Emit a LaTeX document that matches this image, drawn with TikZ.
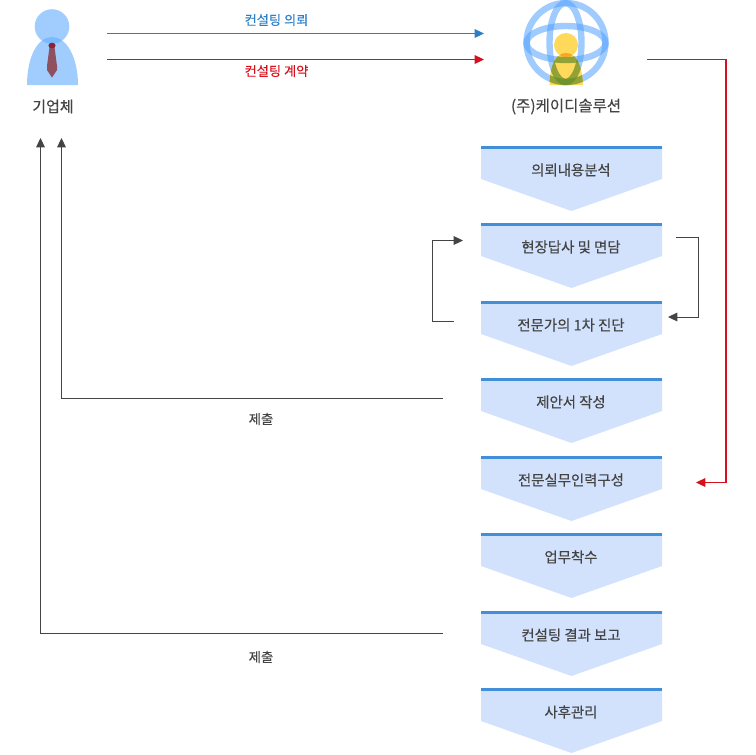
\documentclass[tikz,border=0pt]{standalone}
\usepackage{fontspec}
\setmainfont[FakeBold=0.35]{Noto Sans CJK KR}
\usetikzlibrary{arrows.meta}
\definecolor{personblue}{RGB}{101,174,254}
\definecolor{globeblue}{RGB}{80,160,254}
\definecolor{tiered}{RGB}{143,80,95}
\definecolor{knotred}{RGB}{140,35,50}
\definecolor{sunyellow}{RGB}{255,217,90}
\definecolor{olivegreen}{RGB}{100,140,40}
\definecolor{boxfill}{RGB}{211,226,252}
\definecolor{boxbar}{RGB}{64,143,216}
\definecolor{txtgrey}{RGB}{68,68,68}
\definecolor{linegrey}{RGB}{68,68,68}
\definecolor{reqblue}{RGB}{42,127,200}
\definecolor{ctrred}{RGB}{214,16,28}
\tikzset{
  lbl/.style={inner sep=0.75pt,text=txtgrey,font=\fontsize{10.8}{12}\selectfont},
  greyline/.style={draw=linegrey,line width=0.75pt,-{Triangle[length=7pt,width=6.5pt]}},
  blueline/.style={draw=reqblue,line width=0.85pt,-{Triangle[length=7pt,width=6.5pt]}},
  redline/.style={draw=ctrred,line width=0.85pt,-{Triangle[length=7pt,width=6.5pt]}},
  ring/.style={line width=4.8pt,fill=none}
}
\newcommand{\globerings}[2]{%
  \draw [ring,draw=#1,draw opacity=#2] (566,42.5) circle [radius=39.5];
  \draw [ring,draw=#1,draw opacity=#2] (566,43) ellipse [x radius=39.5,y radius=17];
  \draw [ring,draw=#1,draw opacity=#2] (565.5,42.5) ellipse [x radius=16,y radius=39.5];
}
\newcommand{\sunbody}{(549.5,85) .. controls (550,64) and (556,53) .. (566,53) .. controls (576,53) and (582,64) .. (583,85) -- cycle}
\begin{document}
\begin{tikzpicture}[x=0.75pt,y=0.75pt,yscale=-1,xscale=1]
\useasboundingbox (0,0) rectangle (756,754);

%Person
\fill [personblue,fill opacity=0.62] (27,85) .. controls (27,58) and (37,37) .. (52,37) .. controls (67,37) and (78,58) .. (78,85) -- cycle ;
\fill [personblue,fill opacity=0.62] (52,26.5) circle [radius=17.3];
\fill [tiered] (49.5,47) -- (54.5,47) -- (57,66) -- (57,70) -- (52,77.5) -- (47,70) -- (47,66) -- cycle ;
\fill [knotred] (52,45.5) ellipse [x radius=3.6,y radius=2.8];

%Globe
\globerings{globeblue}{0.55}
\fill [sunyellow] \sunbody ;
\fill [sunyellow] (566,45) circle [radius=12];
\begin{scope}
\clip \sunbody ;
\fill [orange!60!sunyellow] (566,45) circle [radius=12];
\globerings{olivegreen}{0.7}
\end{scope}

%Boxes
\foreach \i/\ytop/\txt in {1/146/의뢰내용분석,2/223/현장답사 및 면담,3/301/전문가의 1차 진단,4/378/제안서 작성,5/456/전문실무인력구성,6/533/업무착수,7/611/컨설팅 결과 보고,8/688/사후관리} {
  \fill [boxfill] (481,\ytop) -- (662,\ytop) -- (662,\ytop+33) -- (571.5,\ytop+65) -- (481,\ytop+33) -- cycle ;
  \fill [boxbar] (481,\ytop) rectangle (662,\ytop+3) ;
  \node [lbl] (box\i) at (571,\ytop+24) {\txt};
}

% Text Node
\node [lbl,font=\fontsize{11.2}{12}\selectfont] (client) at (53,106.5) {기업체};
\node [lbl,font=\fontsize{11.6}{12}\selectfont] (company) at (566,106.5) {(주)케이디솔루션};
\node [lbl,text=reqblue,font=\fontsize{9.9}{12}\selectfont] (reqlabel) at (276.5,20) {컨설팅 의뢰};
\node [lbl,text=ctrred,font=\fontsize{9.9}{12}\selectfont] (ctrlabel) at (276.5,71) {컨설팅 계약};
\node [lbl,font=\fontsize{10}{12}\selectfont] (submitA) at (261,419) {제출};
\node [lbl,font=\fontsize{10}{12}\selectfont] (submitB) at (261,657) {제출};

%Connector ends
\coordinate (reqstart) at (107,33.5);
\coordinate (reqend) at (484,33.5);
\coordinate (ctrstart) at (107,59.5);
\coordinate (ctrend) at (484,59.5);
\coordinate (staffstart) at (647,59.5);
\coordinate (staffend) at (696,482.5);
\coordinate (backstart) at (454,321.5);
\coordinate (backend) at (463,240.5);
\coordinate (fwdstart) at (676,237.5);
\coordinate (fwdend) at (668,317);
\coordinate (propstart) at (443,398.5);
\coordinate (propend) at (61.5,138);
\coordinate (repstart) at (443,633.5);
\coordinate (repend) at (40.5,138);

%Straight Lines
\draw [blueline] (reqstart) -- (reqend);
\draw [redline] (ctrstart) -- (ctrend);
\draw [redline] (staffstart) -- (726,59.5) -- (726,482.5) -- (staffend);
\draw [greyline] (backstart) -- (432,321.5) -- (432,240.5) -- (backend);
\draw [greyline] (fwdstart) -- (698,237.5) -- (698,317) -- (fwdend);
\draw [greyline] (propstart) -- (61.5,398.5) -- (propend);
\draw [greyline] (repstart) -- (40.5,633.5) -- (repend);

\end{tikzpicture}
\end{document}
